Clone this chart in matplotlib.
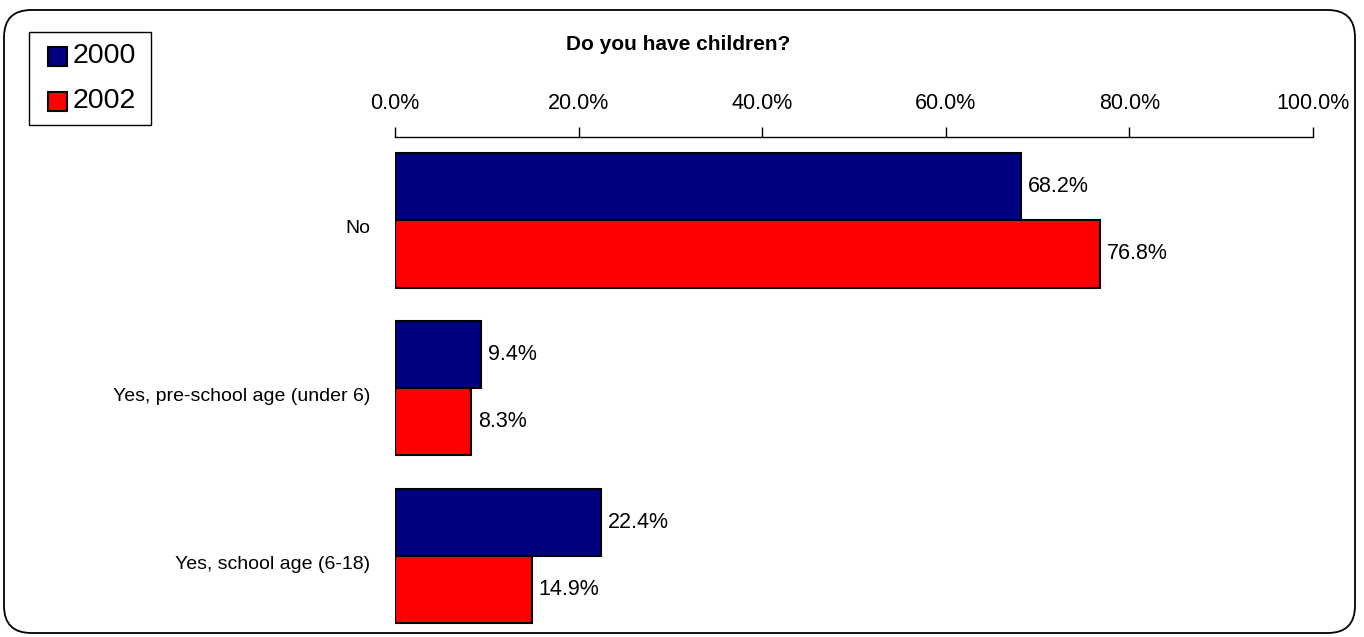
import matplotlib
matplotlib.use("Agg")
import matplotlib.pyplot as plt
from matplotlib.patches import FancyBboxPatch, Rectangle
from matplotlib.ticker import FuncFormatter
import numpy as np

categories = ["No", "Yes, pre-school age (under 6)", "Yes, school age (6-18)"]
values_2000 = [68.2, 9.4, 22.4]
values_2002 = [76.8, 8.3, 14.9]
series_names = ["2000", "2002"]
series_colors = ["#000080", "#FF0000"]
x_ticks = [0, 20, 40, 60, 80, 100]
title = "Do you have children?"

plt.rcParams['font.family'] = ['Liberation Sans', 'DejaVu Sans']

W, H = 1364, 637
fig = plt.figure(figsize=(W / 100, H / 100), dpi=100)

def fx(px):
    return px / W

def fy(py):
    return 1 - py / H

# rounded border
border = FancyBboxPatch((fx(4), fy(633)), fx(1355) - fx(4), fy(10) - fy(633),
                        boxstyle="round,pad=0,rounding_size=0.02",
                        transform=fig.transFigure, fill=False,
                        edgecolor="black", linewidth=1.3, mutation_aspect=W / H)
fig.patches.append(border)

left, right = fx(395), fx(1313)
top_px, bot_px = 136.5, 640
ax = fig.add_axes([left, (H - bot_px) / H, right - left, (bot_px - top_px) / H])

y = np.arange(len(categories))
h = 0.4
b1 = ax.barh(y - h / 2, values_2000, height=h, color=series_colors[0], edgecolor="black", linewidth=1.5, label=series_names[0])
b2 = ax.barh(y + h / 2, values_2002, height=h, color=series_colors[1], edgecolor="black", linewidth=1.5, label=series_names[1])

for bars, vals in ((b1, values_2000), (b2, values_2002)):
    for rect, v in zip(bars, vals):
        ax.annotate(f"{v:.1f}%", (v, rect.get_y() + rect.get_height() / 2),
                    xytext=(5, 0), textcoords="offset points",
                    va="center", ha="left", fontsize=15.5)

ax.set_xlim(0, 100)
ax.set_ylim(len(categories) - 0.5, -0.5)
ax.set_xticks(x_ticks)
ax.xaxis.set_major_formatter(FuncFormatter(lambda v, p: f"{v:.1f}%"))
ax.xaxis.tick_top()
ax.tick_params(axis="x", direction="out", length=7, width=1, pad=9.5, labelsize=15.5)
ax.set_yticks(y)
ax.set_yticklabels(categories, fontsize=14, va="top")
ax.tick_params(axis="y", length=0, pad=18)
for s in ("left", "right", "bottom"):
    ax.spines[s].set_visible(False)
ax.spines["top"].set_linewidth(1)

fig.text(fx(678), fy(45), title, ha="center", va="center", fontsize=15, fontweight="bold")

# legend box drawn in figure pixels
fig.patches.append(Rectangle((fx(29), fy(125)), fx(151) - fx(29), fy(32) - fy(125),
                             transform=fig.transFigure, fill=False,
                             edgecolor="black", linewidth=1))
for i, (name, col) in enumerate(zip(series_names, series_colors)):
    cy = 56 + i * 45
    fig.patches.append(Rectangle((fx(48), fy(cy + 9.5)), fx(67) - fx(48), fy(cy - 9.5) - fy(cy + 9.5),
                                 transform=fig.transFigure, facecolor=col,
                                 edgecolor="black", linewidth=1.5))
    fig.text(fx(73), fy(cy), name, ha="left", va="center", fontsize=20.5)

fig.savefig("out.png", dpi=100)
